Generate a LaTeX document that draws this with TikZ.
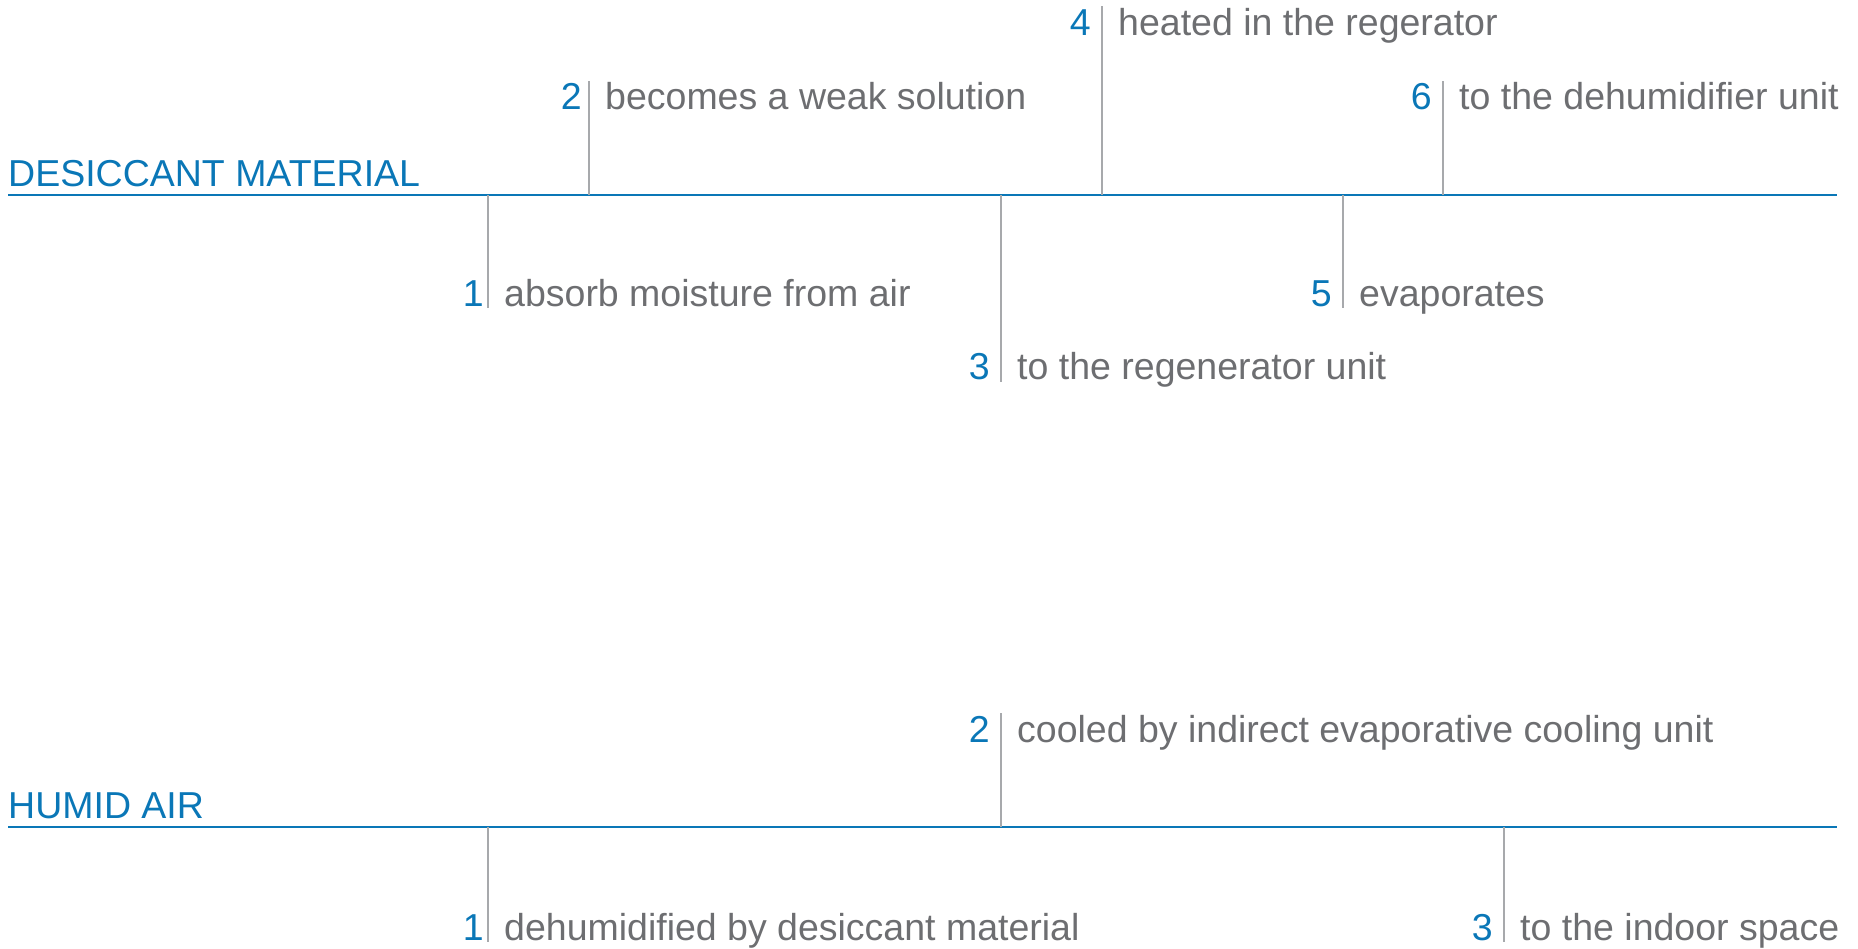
\documentclass[tikz,border=0pt]{standalone}
\usepackage{fontspec}
\setmainfont{Liberation Sans}
\definecolor{accent}{HTML}{0A77B7}
\definecolor{notegray}{HTML}{6D6E71}
\definecolor{tickgray}{HTML}{A7A9AC}
\begin{document}
\begin{tikzpicture}[x=1pt,y=-1pt,
  axisline/.style={draw=accent, line width=2.8pt},
  tick/.style={draw=tickgray, line width=1.7pt},
  txt/.style={inner sep=0pt, font=\fontsize{37.5}{42}\selectfont},
  heading/.style={txt, anchor=base west, text=accent},
  num/.style={txt, anchor=base east, text=accent},
  note/.style={txt, anchor=base west, text=notegray}]
\useasboundingbox (0,0) rectangle (1858,948);

% ---------- desiccant material ----------
\node[heading] (dm) at (8,186) {DESICCANT MATERIAL};
\coordinate (dmL) at (8,195);
\coordinate (dmR) at (1837,195);
\draw[axisline] (dmL) -- (dmR);

% step 1 (below)
\coordinate (d1a) at (488,195);
\coordinate (d1b) at (488,308);
\draw[tick] (d1a) -- (d1b);
\node[num]  (d1n) at (484,306) {1};
\node[note] (d1t) at (504,306) {absorb moisture from air};

% step 2 (above)
\coordinate (d2a) at (589,195);
\coordinate (d2b) at (589,81);
\draw[tick] (d2a) -- (d2b);
\node[num]  (d2n) at (582,109) {2};
\node[note] (d2t) at (605,109) {becomes a weak solution};

% step 3 (below)
\coordinate (d3a) at (1001,195);
\coordinate (d3b) at (1001,382);
\draw[tick] (d3a) -- (d3b);
\node[num]  (d3n) at (990,379) {3};
\node[note] (d3t) at (1017,379) {to the regenerator unit};

% step 4 (above)
\coordinate (d4a) at (1102,195);
\coordinate (d4b) at (1102,6);
\draw[tick] (d4a) -- (d4b);
\node[num]  (d4n) at (1091,35) {4};
\node[note] (d4t) at (1118,35) {heated in the regerator};

% step 5 (below)
\coordinate (d5a) at (1343,195);
\coordinate (d5b) at (1343,308);
\draw[tick] (d5a) -- (d5b);
\node[num]  (d5n) at (1332,306) {5};
\node[note] (d5t) at (1359,306) {evaporates};

% step 6 (above)
\coordinate (d6a) at (1443,195);
\coordinate (d6b) at (1443,81);
\draw[tick] (d6a) -- (d6b);
\node[num]  (d6n) at (1432,109) {6};
\node[note] (d6t) at (1459,109) {to the dehumidifier unit};

% ---------- humid air ----------
\node[heading] (ha) at (8,818) {HUMID AIR};
\coordinate (haL) at (8,827);
\coordinate (haR) at (1837,827);
\draw[axisline] (haL) -- (haR);

% step 1 (below)
\coordinate (h1a) at (488,827);
\coordinate (h1b) at (488,942);
\draw[tick] (h1a) -- (h1b);
\node[num]  (h1n) at (484,940) {1};
\node[note] (h1t) at (504,940) {dehumidified by desiccant material};

% step 2 (above)
\coordinate (h2a) at (1001,827);
\coordinate (h2b) at (1001,713);
\draw[tick] (h2a) -- (h2b);
\node[num]  (h2n) at (990,742) {2};
\node[note] (h2t) at (1017,742) {cooled by indirect evaporative cooling unit};

% step 3 (below)
\coordinate (h3a) at (1504,827);
\coordinate (h3b) at (1504,942);
\draw[tick] (h3a) -- (h3b);
\node[num]  (h3n) at (1493,940) {3};
\node[note] (h3t) at (1520,940) {to the indoor space};
\end{tikzpicture}
\end{document}
